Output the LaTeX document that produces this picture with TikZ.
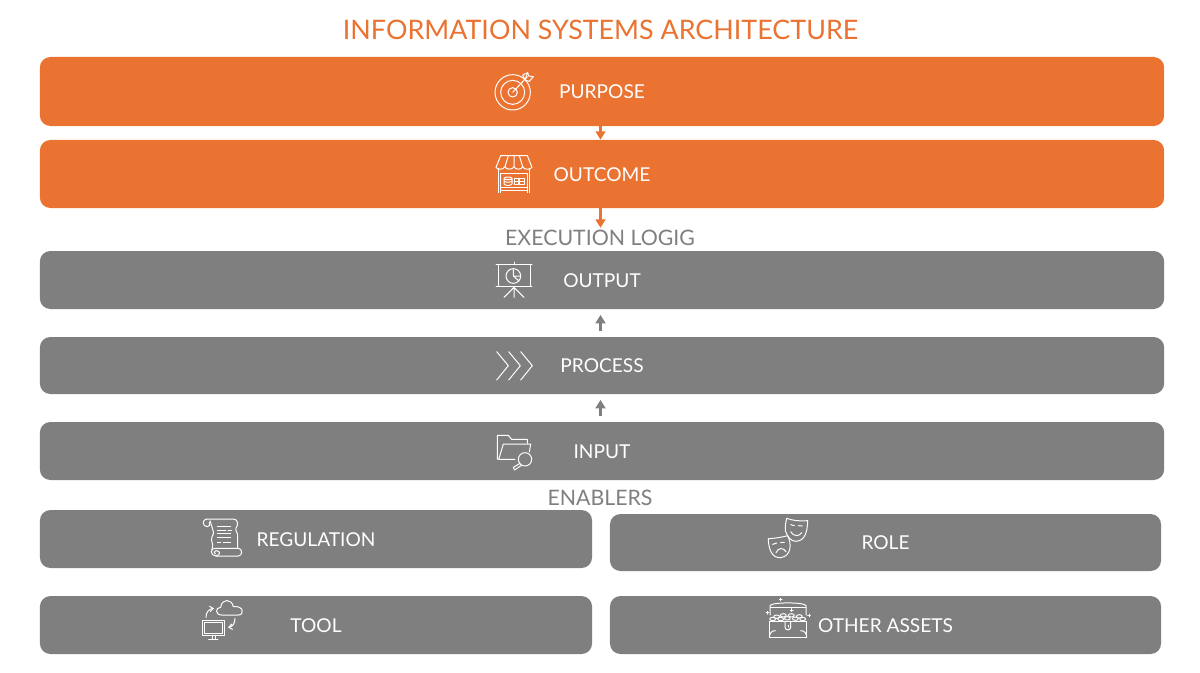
\documentclass[tikz,border=0pt]{standalone}
\usepackage{fontspec}
\setmainfont{Lato}
\usetikzlibrary{arrows.meta}
\definecolor{archorange}{HTML}{EA7332}
\definecolor{archgrey}{HTML}{7F7F7F}
\tikzset{
	orangebar/.style={fill=archorange, rounded corners=7.5pt, text=white, font=\fontsize{13.6}{14}\selectfont, inner sep=0pt, text height=10.6pt, text depth=0pt, minimum width=28.1cm},
	greybar/.style={fill=archgrey, rounded corners=7.5pt, text=white, font=\fontsize{13.6}{14}\selectfont, inner sep=0pt, text height=10.6pt, text depth=0pt},
	heading/.style={text=archgrey, font=\fontsize{15.15}{15}\selectfont, inner sep=0pt},
	orangearrow/.style={draw=archorange, line width=1.5pt, -{Triangle[length=6pt,width=7pt]}},
	greyarrow/.style={draw=archgrey, line width=1.7pt, -{Triangle[length=6pt,width=7pt]}, shorten <=4.3pt, shorten >=4pt},
	icon/.style={draw=white, line width=.7pt, line join=round, line cap=round},
	zoomgrid/.style={x=.008333cm, y=-.008333cm}
}
\begin{document}
\begin{tikzpicture}[x=.025cm, y=-.025cm]
	\useasboundingbox (0,0) rectangle (1200,672);

	\node[text=archorange, font=\fontsize{19.1}{20}\selectfont, inner sep=0pt] (title) at (600.5,30) {INFORMATION SYSTEMS ARCHITECTURE};

	\node[orangebar, minimum height=1.725cm] (purpose) at (602,91.5) {PURPOSE};
	\node[orangebar, minimum height=1.7cm] (outcome) at (602,174) {OUTCOME};

	\node[heading] (execution) at (600,238) {EXECUTION LOGIG};
	\node[greybar, minimum width=28.1cm, minimum height=1.45cm] (output) at (602,280) {OUTPUT};
	\node[greybar, minimum width=28.1cm, minimum height=1.425cm] (process) at (602,365.5) {PROCESS};
	\node[greybar, minimum width=28.1cm, minimum height=1.45cm] (input) at (602,451) {INPUT};

	\node[heading] (enablers) at (600,498) {ENABLERS};
	\node[greybar, minimum width=13.8cm, minimum height=1.45cm] (regulation) at (316,539) {REGULATION};
	\node[greybar, minimum width=13.775cm, minimum height=1.425cm] (role) at (885.5,542.5) {ROLE};
	\node[greybar, minimum width=13.8cm, minimum height=1.45cm] (tool) at (316,625) {TOOL};
	\node[greybar, minimum width=13.775cm, minimum height=1.45cm] (assets) at (885.5,625) {OTHER ASSETS};

	% arrows
	\coordinate (axis) at (600.5,0);
	\draw[orangearrow] (purpose.south -| axis) -- (outcome.north -| axis);
	\draw[orangearrow, shorten >=1.5pt] (outcome.south -| axis) -- (execution.north -| axis);
	\draw[greyarrow] (process.north -| axis) -- (output.south -| axis);
	\draw[greyarrow] (input.north -| axis) -- (process.south -| axis);

	% target
	\begin{scope}[shift={(470,60)}, zoomgrid, icon]
		\draw (128,97) circle (53);
		\draw (128,97) circle (36);
		\draw (128,97) circle (14);
		\draw (128,97) -- (172,50);
		\draw (158,45) -- (173,38) -- (176,48) -- (190,50) -- (178,64) -- (165,60) -- cycle;
		\draw (173,38) -- (165,60);
	\end{scope}

	% shop
	\begin{scope}[shift={(470,60)}, zoomgrid, icon]
		\draw (92,287) -- (172,287) -- (186,322) .. controls (180,330) and (162,330) .. (158,320) .. controls (155,330) and (135,330) .. (132,320) .. controls (128,330) and (108,330) .. (105,320) .. controls (100,330) and (82,330) .. (78,322) -- cycle;
		\draw (105,320) -- (115,287) (132,320) -- (132,287) (158,320) -- (148,287);
		\draw (85,325) -- (85,398) (178,325) -- (178,398) (92,398) -- (92,340) -- (172,340) -- (172,398);
		\draw (92,382) -- (172,382) (92,392) -- (172,392);
		\draw (114,355) ellipse (12 and 4) (102,355) -- (102,372) .. controls (106,378) and (122,378) .. (126,372) -- (126,355) (102,363) .. controls (106,368) and (122,368) .. (126,363);
		\draw (132,354) rectangle (146,374) (132,364) -- (146,364);
		\draw (148,354) rectangle (162,374) (148,364) -- (162,364);
	\end{scope}

	% presentation board
	\begin{scope}[shift={(470,250)}, zoomgrid, icon]
		\draw (78,44) -- (186,44);
		\draw (132,36) -- (132,44);
		\draw (84,44) -- (84,108) -- (180,108) -- (180,44) (78,108) -- (186,108);
		\draw (130,78) circle (22);
		\draw (130,58) -- (130,78) -- (152,78) (130,78) -- (146,92);
		\draw (132,108) -- (132,142) (132,112) -- (102,142) (132,112) -- (162,142);
	\end{scope}

	% chevrons
	\begin{scope}[shift={(470,250)}, zoomgrid, icon]
		\foreach \chevx in {0,36,72}
			\draw[xshift=\chevx*.008333cm] (80,305) -- (115,347) -- (80,390);
	\end{scope}

	% folder
	\begin{scope}[shift={(470,250)}, zoomgrid, icon]
		\draw (82,628) -- (82,556) -- (115,556) -- (125,568) -- (172,568) -- (172,580);
		\draw (135,628) -- (86,628) -- (100,582) -- (182,582) -- (178,606);
		\draw (165,628) circle (20);
		\draw (150,640) -- (130,652) -- (134,660) -- (154,646);
	\end{scope}

	% scroll
	\begin{scope}[shift={(190,510)}, zoomgrid, icon]
		\draw (50,27) -- (130,27) .. controls (145,27) and (145,45) .. (138,55) .. controls (135,62) and (145,70) .. (143,80) -- (143,115);
		\draw (50,27) .. controls (36,28) and (36,50) .. (52,50) .. controls (60,50) and (62,42) .. (58,37);
		\draw (60,32) .. controls (65,50) and (72,65) .. (70,72) .. controls (62,85) and (64,95) .. (68,105) -- (66,120);
		\draw (75,115) -- (145,115) .. controls (158,115) and (158,138) .. (145,138) -- (78,138) .. controls (60,138) and (60,113) .. (75,115);
		\draw (78,138) .. controls (92,135) and (92,122) .. (78,122) .. controls (72,122) and (70,130) .. (76,132);
		\draw (82,50) -- (122,50) (82,60) -- (108,60) (114,60) -- (124,60) (82,70) -- (122,70) (82,82) -- (122,82) (82,96) -- (92,96) (100,96) -- (122,96);
	\end{scope}

	% cloud and monitor
	\begin{scope}[shift={(190,510)}, zoomgrid, icon]
		\draw (38,330) rectangle (104,376);
		\draw (44,336) rectangle (98,370);
		\draw (68,376) -- (68,388) (76,376) -- (76,388) (56,388) -- (84,388);
		\draw (95,315) .. controls (75,315) and (75,292) .. (92,292) .. controls (95,265) and (125,265) .. (130,290) .. controls (160,285) and (165,315) .. (145,315) -- cycle;
		\draw[-{Straight Barb[length=2.5pt,width=4pt]}] (48,322) .. controls (48,305) and (58,297) .. (72,295);
		\draw[-{Straight Barb[length=2.5pt,width=4pt]}] (135,325) .. controls (135,340) and (128,350) .. (114,352);
	\end{scope}

	% masks
	\begin{scope}[shift={(750,510)}, zoomgrid, icon]
		\draw (110,25) .. controls (130,32) and (150,34) .. (173,32) .. controls (172,60) and (168,92) .. (138,94) .. controls (122,94) and (112,80) .. (106,62) .. controls (105,50) and (107,38) .. (110,25) -- cycle;
		\draw (55,86) .. controls (75,85) and (95,82) .. (113,77) .. controls (125,100) and (125,138) .. (92,143) .. controls (65,145) and (55,115) .. (55,86) -- cycle;
		\draw (122,44) -- (133,47) (145,47) -- (157,48);
		\draw (122,65) .. controls (130,80) and (148,80) .. (155,68);
		\draw (68,103) -- (80,99) (92,98) -- (103,97);
		\draw (78,128) .. controls (85,112) and (100,112) .. (108,125);
	\end{scope}

	% treasure chest
	\begin{scope}[shift={(750,510)}, zoomgrid, icon]
		\draw (58,333) rectangle (170,382);
		\draw (60,315) -- (60,287) .. controls (62,276) and (166,276) .. (168,287) -- (168,315);
		\draw (62,292) -- (166,292);
		\draw (58,382) .. controls (58,370) and (65,362) .. (76,362);
		\draw (170,382) .. controls (170,370) and (163,362) .. (152,362);
		\draw (105,333) -- (105,352) .. controls (105,362) and (122,362) .. (122,352) -- (122,333);
		\draw (114,346) -- (114,351);
		\foreach \coinx/\coiny in {68/327,80/320,92/327,100/316,112/325,124/316,136/326,148/319,158/327}
			\draw (\coinx,\coiny) ellipse (9 and 5);
		\foreach \sparkx/\sparky in {92/268,52/308,177/316,125/300}
			\draw (\sparkx-4,\sparky) -- (\sparkx+4,\sparky) (\sparkx,\sparky-4) -- (\sparkx,\sparky+4);
	\end{scope}
\end{tikzpicture}
\end{document}
